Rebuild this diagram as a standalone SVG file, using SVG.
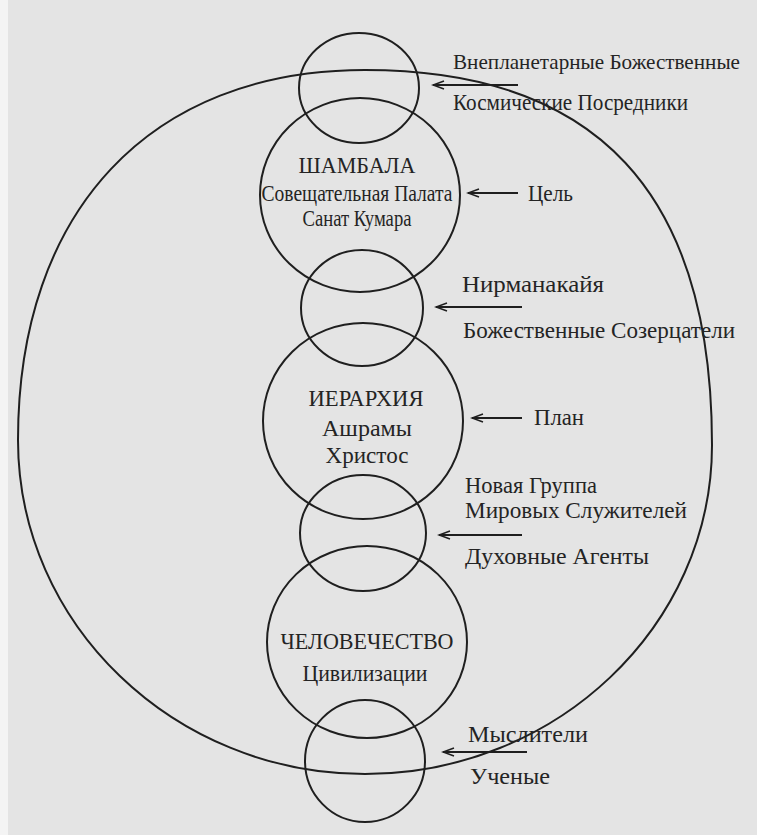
<svg xmlns="http://www.w3.org/2000/svg" width="757" height="835" viewBox="0 0 757 835">
  <defs>
    <style>
      .ln { fill: none; stroke: #1f1f1f; stroke-width: 2; }
      .ar { fill: none; stroke: #1f1f1f; stroke-width: 1.8; marker-end: url(#head); }
      .t { font-family: "Liberation Serif", "DejaVu Serif", serif; font-size: 24px; fill: #242424; }
      .c { text-anchor: middle; }
    </style>
    <marker id="head" viewBox="-13 -6 15 12" refX="0" refY="0" markerWidth="15" markerHeight="12" markerUnits="userSpaceOnUse" orient="auto">
      <path d="M-11,-4 L0,0 L-11,4" fill="none" stroke="#1f1f1f" stroke-width="1.6"/>
    </marker>
  </defs>

  <rect x="0" y="0" width="757" height="835" fill="#e4e4e4"/>
  <rect x="0" y="0" width="8" height="835" fill="#f4f4f4"/>

  <g id="outer-sphere">
    <path class="ln" d="M365,70 C597,70 712,193 712,445 C712,626 556,774 365,774 C174,774 18,624 18,440 C18,211 150,70 365,70 Z"/>
  </g>

  <g id="node-extraplanetary">
    <ellipse class="ln" cx="359" cy="88" rx="60" ry="55"/>
  </g>

  <g id="node-shamballa">
    <ellipse class="ln" cx="360" cy="195" rx="100" ry="97"/>
    <text class="t c" x="357" y="173" textLength="117" lengthAdjust="spacingAndGlyphs">ШАМБАЛА</text>
    <text class="t c" x="357" y="201" textLength="191" lengthAdjust="spacingAndGlyphs">Совещательная Палата</text>
    <text class="t c" x="357" y="226" textLength="109" lengthAdjust="spacingAndGlyphs">Санат Кумара</text>
  </g>

  <g id="node-nirmanakaya">
    <ellipse class="ln" cx="362" cy="308" rx="61" ry="58"/>
  </g>

  <g id="node-hierarchy">
    <ellipse class="ln" cx="363" cy="421" rx="100" ry="98"/>
    <text class="t c" x="366" y="406" textLength="115" lengthAdjust="spacingAndGlyphs">ИЕРАРХИЯ</text>
    <text class="t c" x="367" y="436" textLength="90" lengthAdjust="spacingAndGlyphs">Ашрамы</text>
    <text class="t c" x="367" y="463" textLength="83" lengthAdjust="spacingAndGlyphs">Христос</text>
  </g>

  <g id="node-ngws">
    <ellipse class="ln" cx="363" cy="533" rx="63" ry="58"/>
  </g>

  <g id="node-humanity">
    <ellipse class="ln" cx="367" cy="642" rx="100" ry="96"/>
    <text class="t c" x="367" y="649" textLength="173" lengthAdjust="spacingAndGlyphs">ЧЕЛОВЕЧЕСТВО</text>
    <text class="t c" x="365" y="681" textLength="125" lengthAdjust="spacingAndGlyphs">Цивилизации</text>
  </g>

  <g id="node-thinkers">
    <ellipse class="ln" cx="365" cy="761" rx="60" ry="61"/>
  </g>

  <g id="labels">
    <text class="t" x="453" y="69" font-size="22" textLength="287" lengthAdjust="spacingAndGlyphs" style="font-size:22px">Внепланетарные Божественные</text>
    <text class="t" x="453" y="110" textLength="235" lengthAdjust="spacingAndGlyphs">Космические Посредники</text>
    <text class="t" x="528" y="201" textLength="45" lengthAdjust="spacingAndGlyphs">Цель</text>
    <text class="t" x="462" y="292" textLength="142" lengthAdjust="spacingAndGlyphs">Нирманакайя</text>
    <text class="t" x="463" y="338" textLength="272" lengthAdjust="spacingAndGlyphs">Божественные Созерцатели</text>
    <text class="t" x="534" y="425" textLength="50" lengthAdjust="spacingAndGlyphs">План</text>
    <text class="t" x="465" y="493" textLength="132" lengthAdjust="spacingAndGlyphs">Новая Группа</text>
    <text class="t" x="465" y="518" textLength="222" lengthAdjust="spacingAndGlyphs">Мировых Служителей</text>
    <text class="t" x="465" y="564" textLength="184" lengthAdjust="spacingAndGlyphs">Духовные Агенты</text>
    <text class="t" x="468" y="742" textLength="120" lengthAdjust="spacingAndGlyphs">Мыслители</text>
    <text class="t" x="470" y="784" textLength="80" lengthAdjust="spacingAndGlyphs">Ученые</text>
  </g>

  <g id="connectors">
    <line class="ar" x1="518" y1="85" x2="433" y2="85"/>
    <line class="ar" x1="518" y1="193" x2="468" y2="193"/>
    <line class="ar" x1="522" y1="307" x2="436" y2="307"/>
    <line class="ar" x1="522" y1="418" x2="472" y2="418"/>
    <line class="ar" x1="522" y1="535" x2="439" y2="535"/>
    <line class="ar" x1="527" y1="752" x2="443" y2="752"/>
  </g>
</svg>
